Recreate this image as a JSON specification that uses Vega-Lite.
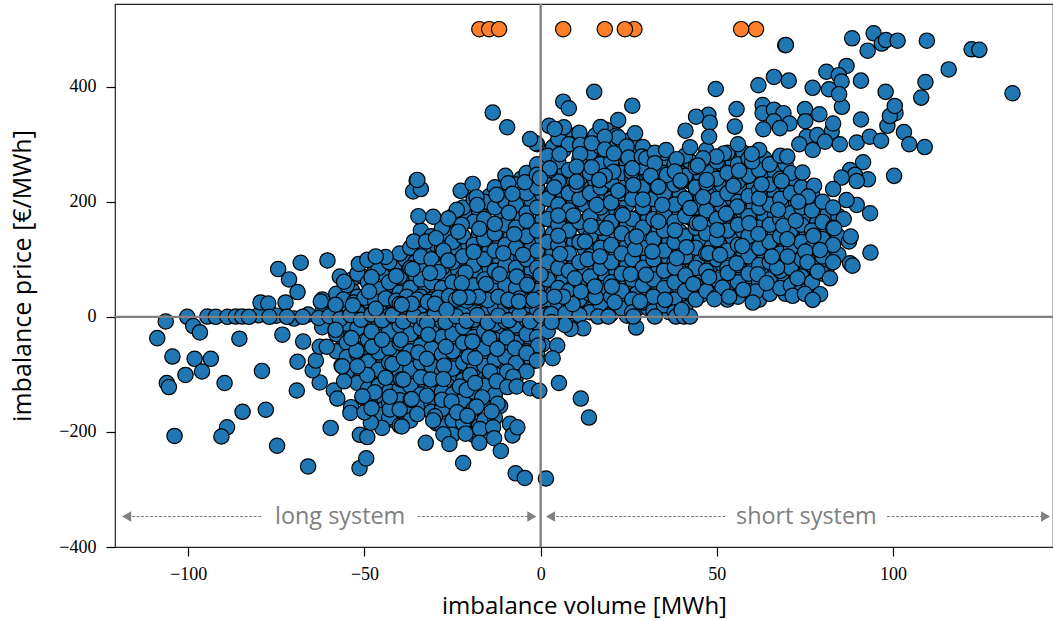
{"$schema":"https://vega.github.io/schema/vega-lite/v6.json","width":938,"height":543,"autosize":"none","padding":{"left":115,"top":4,"right":0,"bottom":74},"background":"white","view":{"stroke":"#222222","strokeWidth":1.2,"fill":"white"},
"datasets":{"orange":[{"v":-17.4,"p":500},{"v":-14.6,"p":500},{"v":-11.8,"p":500},{"v":6.4,"p":500},{"v":18.2,"p":500},{"v":26.6,"p":500},{"v":23.9,"p":500},{"v":61.1,"p":500},{"v":56.9,"p":500}],
"guide":[{"a":-118.5,"b":-79,"t":"l"},{"a":-35,"b":-1.5,"t":"r"},{"a":1.8,"b":52.4,"t":"l"},{"a":98.3,"b":144.3,"t":"r"}],
"heads":[{"v":-117.5,"s":"triangle-left"},{"v":-2.5,"s":"triangle-right"},{"v":2.8,"s":"triangle-left"},{"v":143.3,"s":"triangle-right"}],
"labels":[{"v":-56.9,"t":"long system"},{"v":75.4,"t":"short system"}],
"blue":[{"v":-56.5,"p":35},{"v":-56.5,"p":-5},{"v":-56.5,"p":-35},{"v":-56.5,"p":-58},{"v":-56.5,"p":-85},{"v":-53.5,"p":65},{"v":-53.5,"p":45},{"v":-53.5,"p":12},{"v":-53.5,"p":-32},{"v":-53.5,"p":-52},{"v":-53.5,"p":-80},{"v":-53.5,"p":-105},{"v":-50.5,"p":70},{"v":-50.5,"p":18},{"v":-50.5,"p":-15},{"v":-50.5,"p":-55},{"v":-50.5,"p":-100},{"v":-50.5,"p":-140},{"v":-47.5,"p":75},{"v":-47.5,"p":38},{"v":-47.5,"p":5},{"v":-47.5,"p":-22},{"v":-47.5,"p":-72},{"v":-47.5,"p":-112},{"v":-47.5,"p":-145},{"v":-47.5,"p":-178},{"v":-44.5,"p":75},{"v":-44.5,"p":40},{"v":-44.5,"p":-20},{"v":-44.5,"p":-48},{"v":-44.5,"p":-75},{"v":-44.5,"p":-100},{"v":-44.5,"p":-140},{"v":-44.5,"p":-160},{"v":-41.5,"p":88},{"v":-41.5,"p":52},{"v":-41.5,"p":20},{"v":-41.5,"p":-32},{"v":-41.5,"p":-65},{"v":-41.5,"p":-115},{"v":-41.5,"p":-180},{"v":-38.5,"p":100},{"v":-38.5,"p":62},{"v":-38.5,"p":20},{"v":-38.5,"p":-22},{"v":-38.5,"p":-52},{"v":-38.5,"p":-78},{"v":-38.5,"p":-110},{"v":-38.5,"p":-135},{"v":-38.5,"p":-170},{"v":-35.5,"p":95},{"v":-35.5,"p":72},{"v":-35.5,"p":42},{"v":-35.5,"p":10},{"v":-35.5,"p":-45},{"v":-35.5,"p":-70},{"v":-35.5,"p":-98},{"v":-35.5,"p":-128},{"v":-35.5,"p":-150},{"v":-32.5,"p":118},{"v":-32.5,"p":85},{"v":-32.5,"p":48},{"v":-32.5,"p":15},{"v":-32.5,"p":-35},{"v":-32.5,"p":-68},{"v":-32.5,"p":-95},{"v":-32.5,"p":-115},{"v":-32.5,"p":-145},{"v":-29.5,"p":125},{"v":-29.5,"p":95},{"v":-29.5,"p":68},{"v":-29.5,"p":40},{"v":-29.5,"p":-15},{"v":-29.5,"p":-45},{"v":-29.5,"p":-75},{"v":-29.5,"p":-100},{"v":-29.5,"p":-120},{"v":-29.5,"p":-155},{"v":-29.5,"p":-185},{"v":-26.5,"p":145},{"v":-26.5,"p":105},{"v":-26.5,"p":70},{"v":-26.5,"p":42},{"v":-26.5,"p":-20},{"v":-26.5,"p":-50},{"v":-26.5,"p":-78},{"v":-26.5,"p":-115},{"v":-26.5,"p":-150},{"v":-26.5,"p":-175},{"v":-23.5,"p":160},{"v":-23.5,"p":118},{"v":-23.5,"p":82},{"v":-23.5,"p":50},{"v":-23.5,"p":15},{"v":-23.5,"p":-10},{"v":-23.5,"p":-42},{"v":-23.5,"p":-75},{"v":-23.5,"p":-100},{"v":-23.5,"p":-125},{"v":-23.5,"p":-160},{"v":-23.5,"p":-195},{"v":-20.5,"p":175},{"v":-20.5,"p":125},{"v":-20.5,"p":88},{"v":-20.5,"p":52},{"v":-20.5,"p":-30},{"v":-20.5,"p":-55},{"v":-20.5,"p":-95},{"v":-20.5,"p":-135},{"v":-20.5,"p":-170},{"v":-20.5,"p":-195},{"v":-17.5,"p":185},{"v":-17.5,"p":145},{"v":-17.5,"p":112},{"v":-17.5,"p":72},{"v":-17.5,"p":40},{"v":-17.5,"p":8},{"v":-17.5,"p":-18},{"v":-17.5,"p":-48},{"v":-17.5,"p":-75},{"v":-17.5,"p":-105},{"v":-17.5,"p":-150},{"v":-17.5,"p":-190},{"v":-14.5,"p":210},{"v":-14.5,"p":150},{"v":-14.5,"p":118},{"v":-14.5,"p":85},{"v":-14.5,"p":48},{"v":-14.5,"p":18},{"v":-14.5,"p":-15},{"v":-14.5,"p":-42},{"v":-14.5,"p":-70},{"v":-14.5,"p":-105},{"v":-14.5,"p":-150},{"v":-14.5,"p":-190},{"v":-11.5,"p":205},{"v":-11.5,"p":168},{"v":-11.5,"p":130},{"v":-11.5,"p":98},{"v":-11.5,"p":62},{"v":-11.5,"p":30},{"v":-11.5,"p":-28},{"v":-11.5,"p":-60},{"v":-11.5,"p":-90},{"v":-11.5,"p":-118},{"v":-11.5,"p":-155},{"v":-8.5,"p":215},{"v":-8.5,"p":178},{"v":-8.5,"p":140},{"v":-8.5,"p":105},{"v":-8.5,"p":72},{"v":-8.5,"p":38},{"v":-8.5,"p":5},{"v":-8.5,"p":-28},{"v":-8.5,"p":-60},{"v":-8.5,"p":-90},{"v":-5.5,"p":240},{"v":-5.5,"p":175},{"v":-5.5,"p":138},{"v":-5.5,"p":102},{"v":-5.5,"p":68},{"v":-5.5,"p":-25},{"v":-5.5,"p":-62},{"v":-5.5,"p":-92},{"v":-2.5,"p":235},{"v":-2.5,"p":200},{"v":-2.5,"p":160},{"v":-2.5,"p":122},{"v":-2.5,"p":80},{"v":-2.5,"p":42},{"v":-2.5,"p":10},{"v":-2.5,"p":-20},{"v":-2.5,"p":-45},{"v":-2.5,"p":-78},{"v":0.5,"p":265},{"v":0.5,"p":212},{"v":0.5,"p":170},{"v":0.5,"p":135},{"v":0.5,"p":100},{"v":0.5,"p":55},{"v":0.5,"p":20},{"v":0.5,"p":-15},{"v":0.5,"p":-48},{"v":3.5,"p":295},{"v":3.5,"p":255},{"v":3.5,"p":220},{"v":3.5,"p":180},{"v":3.5,"p":145},{"v":3.5,"p":110},{"v":3.5,"p":75},{"v":3.5,"p":40},{"v":3.5,"p":12},{"v":6.5,"p":290},{"v":6.5,"p":250},{"v":6.5,"p":210},{"v":6.5,"p":175},{"v":6.5,"p":140},{"v":6.5,"p":98},{"v":6.5,"p":65},{"v":6.5,"p":25},{"v":6.5,"p":-2},{"v":9.5,"p":315},{"v":9.5,"p":235},{"v":9.5,"p":200},{"v":9.5,"p":165},{"v":9.5,"p":130},{"v":9.5,"p":92},{"v":9.5,"p":55},{"v":9.5,"p":28},{"v":9.5,"p":2},{"v":12.5,"p":305},{"v":12.5,"p":265},{"v":12.5,"p":230},{"v":12.5,"p":195},{"v":12.5,"p":155},{"v":12.5,"p":118},{"v":12.5,"p":82},{"v":12.5,"p":50},{"v":12.5,"p":18},{"v":15.5,"p":315},{"v":15.5,"p":275},{"v":15.5,"p":235},{"v":15.5,"p":200},{"v":15.5,"p":165},{"v":15.5,"p":125},{"v":15.5,"p":90},{"v":15.5,"p":55},{"v":15.5,"p":20},{"v":18.5,"p":325},{"v":18.5,"p":280},{"v":18.5,"p":250},{"v":18.5,"p":215},{"v":18.5,"p":178},{"v":18.5,"p":140},{"v":18.5,"p":105},{"v":18.5,"p":70},{"v":18.5,"p":35},{"v":18.5,"p":12},{"v":21.5,"p":315},{"v":21.5,"p":285},{"v":21.5,"p":252},{"v":21.5,"p":220},{"v":21.5,"p":185},{"v":21.5,"p":145},{"v":21.5,"p":110},{"v":21.5,"p":78},{"v":21.5,"p":48},{"v":21.5,"p":18},{"v":24.5,"p":305},{"v":24.5,"p":265},{"v":24.5,"p":230},{"v":24.5,"p":195},{"v":24.5,"p":160},{"v":24.5,"p":125},{"v":24.5,"p":90},{"v":24.5,"p":60},{"v":24.5,"p":28},{"v":24.5,"p":2},{"v":27.5,"p":275},{"v":27.5,"p":245},{"v":27.5,"p":205},{"v":27.5,"p":172},{"v":27.5,"p":138},{"v":27.5,"p":102},{"v":27.5,"p":70},{"v":27.5,"p":42},{"v":27.5,"p":15},{"v":30.5,"p":285},{"v":30.5,"p":250},{"v":30.5,"p":215},{"v":30.5,"p":172},{"v":30.5,"p":138},{"v":30.5,"p":102},{"v":30.5,"p":70},{"v":30.5,"p":42},{"v":30.5,"p":15},{"v":33.5,"p":260},{"v":33.5,"p":222},{"v":33.5,"p":188},{"v":33.5,"p":152},{"v":33.5,"p":118},{"v":33.5,"p":82},{"v":33.5,"p":50},{"v":33.5,"p":22},{"v":36.5,"p":270},{"v":36.5,"p":232},{"v":36.5,"p":198},{"v":36.5,"p":165},{"v":36.5,"p":132},{"v":36.5,"p":98},{"v":36.5,"p":65},{"v":36.5,"p":35},{"v":36.5,"p":8},{"v":39.5,"p":250},{"v":39.5,"p":212},{"v":39.5,"p":180},{"v":39.5,"p":148},{"v":39.5,"p":115},{"v":39.5,"p":80},{"v":39.5,"p":50},{"v":39.5,"p":22},{"v":42.5,"p":270},{"v":42.5,"p":235},{"v":42.5,"p":205},{"v":42.5,"p":172},{"v":42.5,"p":138},{"v":42.5,"p":102},{"v":42.5,"p":70},{"v":42.5,"p":42},{"v":45.5,"p":245},{"v":45.5,"p":205},{"v":45.5,"p":170},{"v":45.5,"p":135},{"v":45.5,"p":98},{"v":45.5,"p":68},{"v":45.5,"p":38},{"v":48.5,"p":260},{"v":48.5,"p":225},{"v":48.5,"p":190},{"v":48.5,"p":155},{"v":48.5,"p":122},{"v":48.5,"p":90},{"v":48.5,"p":55},{"v":51.5,"p":265},{"v":51.5,"p":228},{"v":51.5,"p":192},{"v":51.5,"p":158},{"v":51.5,"p":125},{"v":51.5,"p":92},{"v":51.5,"p":62},{"v":51.5,"p":40},{"v":54.5,"p":270},{"v":54.5,"p":240},{"v":54.5,"p":205},{"v":54.5,"p":170},{"v":54.5,"p":138},{"v":54.5,"p":105},{"v":54.5,"p":72},{"v":54.5,"p":45},{"v":57.5,"p":285},{"v":57.5,"p":250},{"v":57.5,"p":218},{"v":57.5,"p":182},{"v":57.5,"p":148},{"v":57.5,"p":112},{"v":57.5,"p":78},{"v":60.5,"p":260},{"v":60.5,"p":225},{"v":60.5,"p":192},{"v":60.5,"p":158},{"v":60.5,"p":125},{"v":60.5,"p":92},{"v":60.5,"p":60},{"v":60.5,"p":35},{"v":63.5,"p":275},{"v":63.5,"p":240},{"v":63.5,"p":205},{"v":63.5,"p":175},{"v":63.5,"p":140},{"v":63.5,"p":108},{"v":63.5,"p":78},{"v":63.5,"p":50},{"v":66.5,"p":250},{"v":66.5,"p":215},{"v":66.5,"p":178},{"v":66.5,"p":145},{"v":66.5,"p":118},{"v":66.5,"p":85},{"v":66.5,"p":55},{"v":69.5,"p":265},{"v":69.5,"p":228},{"v":69.5,"p":192},{"v":69.5,"p":158},{"v":69.5,"p":128},{"v":69.5,"p":95},{"v":69.5,"p":65},{"v":69.5,"p":40},{"v":72.5,"p":235},{"v":72.5,"p":198},{"v":72.5,"p":165},{"v":72.5,"p":135},{"v":72.5,"p":105},{"v":72.5,"p":72},{"v":72.5,"p":48},{"v":75.5,"p":200},{"v":75.5,"p":170},{"v":75.5,"p":142},{"v":75.5,"p":112},{"v":75.5,"p":82},{"v":75.5,"p":55},{"v":78.5,"p":195},{"v":78.5,"p":165},{"v":78.5,"p":135},{"v":78.5,"p":105},{"v":78.5,"p":75},{"v":81.5,"p":180},{"v":81.5,"p":148},{"v":81.5,"p":118},{"v":81.5,"p":88},{"v":84.5,"p":175},{"v":84.5,"p":140},{"v":84.5,"p":108},
{"v":-62,"p":30},{"v":-62,"p":8},{"v":-62,"p":-18},{"v":-58,"p":40},{"v":-58,"p":15},{"v":-58,"p":2},{"v":-58,"p":-30},{"v":-58,"p":-60},{"v":-55,"p":55},{"v":-55,"p":22},{"v":-55,"p":-12},{"v":-55,"p":-45},{"v":-55,"p":-70},{"v":-55,"p":-95},{"v":-52,"p":75},{"v":-52,"p":35},{"v":-52,"p":8},{"v":-52,"p":-20},{"v":-52,"p":-65},{"v":-52,"p":-115},{"v":-49,"p":60},{"v":-49,"p":28},{"v":-49,"p":-5},{"v":-49,"p":-40},{"v":-49,"p":-78},{"v":-49,"p":-125},{"v":-49,"p":-150},{"v":-46,"p":85},{"v":-46,"p":48},{"v":-46,"p":15},{"v":-46,"p":-10},{"v":-46,"p":-35},{"v":-46,"p":-62},{"v":-46,"p":-92},{"v":-46,"p":-120},{"v":-46,"p":-170},{"v":-43,"p":95},{"v":-43,"p":60},{"v":-43,"p":30},{"v":-43,"p":2},{"v":-43,"p":-25},{"v":-43,"p":-55},{"v":-43,"p":-80},{"v":-43,"p":-130},{"v":-43,"p":-150},{"v":-43,"p":-175},{"v":-40,"p":110},{"v":-40,"p":70},{"v":-40,"p":42},{"v":-40,"p":12},{"v":-40,"p":-15},{"v":-40,"p":-45},{"v":-40,"p":-95},{"v":-40,"p":-125},{"v":-40,"p":-145},{"v":-37,"p":120},{"v":-37,"p":85},{"v":-37,"p":50},{"v":-37,"p":25},{"v":-37,"p":-8},{"v":-37,"p":-30},{"v":-37,"p":-60},{"v":-37,"p":-90},{"v":-37,"p":-120},{"v":-37,"p":-160},{"v":-37,"p":-180},{"v":-34,"p":150},{"v":-34,"p":105},{"v":-34,"p":65},{"v":-34,"p":35},{"v":-34,"p":5},{"v":-34,"p":-20},{"v":-34,"p":-50},{"v":-34,"p":-80},{"v":-34,"p":-105},{"v":-34,"p":-135},{"v":-34,"p":-155},{"v":-31,"p":140},{"v":-31,"p":100},{"v":-31,"p":60},{"v":-31,"p":30},{"v":-31,"p":0},{"v":-31,"p":-25},{"v":-31,"p":-55},{"v":-31,"p":-85},{"v":-31,"p":-125},{"v":-31,"p":-150},{"v":-31,"p":-165},{"v":-28,"p":155},{"v":-28,"p":120},{"v":-28,"p":85},{"v":-28,"p":50},{"v":-28,"p":18},{"v":-28,"p":-8},{"v":-28,"p":-35},{"v":-28,"p":-65},{"v":-28,"p":-95},{"v":-28,"p":-130},{"v":-28,"p":-160},{"v":-28,"p":-190},{"v":-25,"p":175},{"v":-25,"p":130},{"v":-25,"p":95},{"v":-25,"p":60},{"v":-25,"p":28},{"v":-25,"p":3},{"v":-25,"p":-30},{"v":-25,"p":-60},{"v":-25,"p":-90},{"v":-25,"p":-135},{"v":-25,"p":-180},{"v":-25,"p":-205},{"v":-22,"p":190},{"v":-22,"p":140},{"v":-22,"p":105},{"v":-22,"p":70},{"v":-22,"p":40},{"v":-22,"p":10},{"v":-22,"p":-18},{"v":-22,"p":-45},{"v":-22,"p":-80},{"v":-22,"p":-110},{"v":-22,"p":-145},{"v":-22,"p":-185},{"v":-19,"p":205},{"v":-19,"p":165},{"v":-19,"p":125},{"v":-19,"p":90},{"v":-19,"p":55},{"v":-19,"p":22},{"v":-19,"p":-5},{"v":-19,"p":-35},{"v":-19,"p":-60},{"v":-19,"p":-90},{"v":-19,"p":-130},{"v":-19,"p":-160},{"v":-19,"p":-205},{"v":-16,"p":200},{"v":-16,"p":170},{"v":-16,"p":135},{"v":-16,"p":100},{"v":-16,"p":65},{"v":-16,"p":30},{"v":-16,"p":5},{"v":-16,"p":-25},{"v":-16,"p":-55},{"v":-16,"p":-85},{"v":-16,"p":-120},{"v":-16,"p":-180},{"v":-16,"p":-200},{"v":-13,"p":225},{"v":-13,"p":190},{"v":-13,"p":145},{"v":-13,"p":115},{"v":-13,"p":80},{"v":-13,"p":45},{"v":-13,"p":15},{"v":-13,"p":-12},{"v":-13,"p":-40},{"v":-13,"p":-75},{"v":-13,"p":-100},{"v":-13,"p":-135},{"v":-13,"p":-175},{"v":-10,"p":245},{"v":-10,"p":200},{"v":-10,"p":160},{"v":-10,"p":125},{"v":-10,"p":90},{"v":-10,"p":55},{"v":-10,"p":20},{"v":-10,"p":-8},{"v":-10,"p":-45},{"v":-10,"p":-70},{"v":-10,"p":-110},{"v":-7,"p":230},{"v":-7,"p":195},{"v":-7,"p":155},{"v":-7,"p":120},{"v":-7,"p":85},{"v":-7,"p":50},{"v":-7,"p":15},{"v":-7,"p":-15},{"v":-7,"p":-45},{"v":-7,"p":-80},{"v":-7,"p":-105},{"v":-4,"p":250},{"v":-4,"p":215},{"v":-4,"p":180},{"v":-4,"p":140},{"v":-4,"p":100},{"v":-4,"p":60},{"v":-4,"p":30},{"v":-4,"p":-5},{"v":-4,"p":-30},{"v":-4,"p":-60},{"v":-4,"p":-95},{"v":-1,"p":300},{"v":-1,"p":265},{"v":-1,"p":225},{"v":-1,"p":190},{"v":-1,"p":150},{"v":-1,"p":115},{"v":-1,"p":85},{"v":-1,"p":45},{"v":-1,"p":12},{"v":-1,"p":-10},{"v":-1,"p":-35},{"v":-1,"p":-65},{"v":2,"p":280},{"v":2,"p":245},{"v":2,"p":205},{"v":2,"p":170},{"v":2,"p":130},{"v":2,"p":95},{"v":2,"p":65},{"v":2,"p":25},{"v":2,"p":5},{"v":2,"p":-25},{"v":5,"p":310},{"v":5,"p":270},{"v":5,"p":235},{"v":5,"p":195},{"v":5,"p":160},{"v":5,"p":125},{"v":5,"p":85},{"v":5,"p":50},{"v":5,"p":20},{"v":5,"p":-8},{"v":8,"p":300},{"v":8,"p":255},{"v":8,"p":215},{"v":8,"p":185},{"v":8,"p":150},{"v":8,"p":110},{"v":8,"p":80},{"v":8,"p":45},{"v":8,"p":15},{"v":11,"p":320},{"v":11,"p":275},{"v":11,"p":240},{"v":11,"p":205},{"v":11,"p":165},{"v":11,"p":130},{"v":11,"p":95},{"v":11,"p":60},{"v":11,"p":30},{"v":11,"p":5},{"v":14,"p":285},{"v":14,"p":250},{"v":14,"p":215},{"v":14,"p":175},{"v":14,"p":140},{"v":14,"p":105},{"v":14,"p":70},{"v":14,"p":40},{"v":14,"p":8},{"v":17,"p":330},{"v":17,"p":295},{"v":17,"p":265},{"v":17,"p":225},{"v":17,"p":190},{"v":17,"p":155},{"v":17,"p":120},{"v":17,"p":85},{"v":17,"p":50},{"v":17,"p":22},{"v":20,"p":300},{"v":20,"p":270},{"v":20,"p":235},{"v":20,"p":205},{"v":20,"p":165},{"v":20,"p":125},{"v":20,"p":95},{"v":20,"p":60},{"v":20,"p":35},{"v":20,"p":5},{"v":23,"p":290},{"v":23,"p":250},{"v":23,"p":215},{"v":23,"p":180},{"v":23,"p":145},{"v":23,"p":110},{"v":23,"p":75},{"v":23,"p":45},{"v":23,"p":15},{"v":26,"p":310},{"v":26,"p":280},{"v":26,"p":240},{"v":26,"p":205},{"v":26,"p":170},{"v":26,"p":135},{"v":26,"p":100},{"v":26,"p":65},{"v":26,"p":30},{"v":26,"p":8},{"v":29,"p":295},{"v":29,"p":260},{"v":29,"p":225},{"v":29,"p":190},{"v":29,"p":155},{"v":29,"p":120},{"v":29,"p":85},{"v":29,"p":55},{"v":29,"p":25},{"v":32,"p":275},{"v":32,"p":240},{"v":32,"p":205},{"v":32,"p":170},{"v":32,"p":135},{"v":32,"p":100},{"v":32,"p":65},{"v":32,"p":35},{"v":32,"p":10},{"v":35,"p":285},{"v":35,"p":250},{"v":35,"p":215},{"v":35,"p":180},{"v":35,"p":150},{"v":35,"p":115},{"v":35,"p":80},{"v":35,"p":50},{"v":35,"p":20},{"v":38,"p":265},{"v":38,"p":230},{"v":38,"p":195},{"v":38,"p":165},{"v":38,"p":130},{"v":38,"p":95},{"v":38,"p":60},{"v":38,"p":30},{"v":38,"p":8},{"v":41,"p":280},{"v":41,"p":245},{"v":41,"p":205},{"v":41,"p":175},{"v":41,"p":140},{"v":41,"p":105},{"v":41,"p":75},{"v":41,"p":45},{"v":41,"p":15},{"v":44,"p":260},{"v":44,"p":225},{"v":44,"p":190},{"v":44,"p":155},{"v":44,"p":120},{"v":44,"p":85},{"v":44,"p":55},{"v":44,"p":30},{"v":47,"p":290},{"v":47,"p":255},{"v":47,"p":215},{"v":47,"p":185},{"v":47,"p":145},{"v":47,"p":110},{"v":47,"p":80},{"v":47,"p":45},{"v":50,"p":270},{"v":50,"p":240},{"v":50,"p":205},{"v":50,"p":170},{"v":50,"p":135},{"v":50,"p":100},{"v":50,"p":65},{"v":50,"p":35},{"v":53,"p":285},{"v":53,"p":250},{"v":53,"p":215},{"v":53,"p":180},{"v":53,"p":150},{"v":53,"p":115},{"v":53,"p":85},{"v":53,"p":55},{"v":53,"p":30},{"v":56,"p":300},{"v":56,"p":265},{"v":56,"p":235},{"v":56,"p":200},{"v":56,"p":160},{"v":56,"p":125},{"v":56,"p":90},{"v":56,"p":60},{"v":56,"p":35},{"v":59,"p":275},{"v":59,"p":245},{"v":59,"p":210},{"v":59,"p":175},{"v":59,"p":140},{"v":59,"p":105},{"v":59,"p":75},{"v":59,"p":45},{"v":62,"p":290},{"v":62,"p":255},{"v":62,"p":220},{"v":62,"p":190},{"v":62,"p":155},{"v":62,"p":120},{"v":62,"p":90},{"v":62,"p":60},{"v":62,"p":30},{"v":65,"p":265},{"v":65,"p":230},{"v":65,"p":195},{"v":65,"p":160},{"v":65,"p":130},{"v":65,"p":95},{"v":65,"p":65},{"v":65,"p":40},{"v":68,"p":280},{"v":68,"p":240},{"v":68,"p":205},{"v":68,"p":170},{"v":68,"p":140},{"v":68,"p":110},{"v":68,"p":80},{"v":68,"p":50},{"v":71,"p":250},{"v":71,"p":215},{"v":71,"p":180},{"v":71,"p":150},{"v":71,"p":120},{"v":71,"p":85},{"v":71,"p":55},{"v":74,"p":225},{"v":74,"p":190},{"v":74,"p":160},{"v":74,"p":130},{"v":74,"p":100},{"v":74,"p":70},{"v":74,"p":45},{"v":77,"p":215},{"v":77,"p":185},{"v":77,"p":150},{"v":77,"p":120},{"v":77,"p":90},{"v":77,"p":60},{"v":80,"p":200},{"v":80,"p":165},{"v":80,"p":135},{"v":80,"p":105},{"v":80,"p":75},{"v":83,"p":190},{"v":83,"p":155},{"v":83,"p":125},{"v":83,"p":95},
{"v":-80,"p":3},{"v":-75,"p":2},{"v":-70,"p":-3},{"v":-66,"p":4},{"v":-63,"p":-2},{"v":-60,"p":1},{"v":-57,"p":-4},{"v":-54,"p":3},{"v":-51,"p":-5},{"v":-48,"p":4},{"v":-45,"p":-6},{"v":-42,"p":3},{"v":-39,"p":-8},{"v":-36,"p":2},{"v":-33,"p":-6},{"v":-30,"p":5},{"v":-27,"p":-9},{"v":-24,"p":1},{"v":-21,"p":-7},{"v":-18,"p":3},{"v":-15,"p":-10},{"v":-12,"p":2},{"v":-9,"p":-6},{"v":-6,"p":4},{"v":-3,"p":-8},{"v":0,"p":2},{"v":3,"p":5},{"v":7,"p":6},{"v":11,"p":3},{"v":-56,"p":30},{"v":-53,"p":25},{"v":-50,"p":33},{"v":-47,"p":27},{"v":-44,"p":32},{"v":-41,"p":28},{"v":-38,"p":35},{"v":-35,"p":30},{"v":-32,"p":26},{"v":-29,"p":33},{"v":-26,"p":36},{"v":-24,"p":30},{"v":-21,"p":28},{"v":-18,"p":33},{"v":-15,"p":29},{"v":-12,"p":35},{"v":-9,"p":27},{"v":-6,"p":32},{"v":-3,"p":28},{"v":0,"p":33},
{"v":-106.4,"p":-8},{"v":-108.8,"p":-37},{"v":-100.3,"p":0},{"v":-98.6,"p":-16},{"v":-96.7,"p":-27},{"v":-94.6,"p":0.5},{"v":-92.2,"p":0},{"v":-88.9,"p":0},{"v":-86.5,"p":0.5},{"v":-84.7,"p":0.5},{"v":-82.8,"p":0},{"v":-85.5,"p":-38},{"v":-104.5,"p":-69},{"v":-98.2,"p":-73},{"v":-93.6,"p":-73},{"v":-100.8,"p":-101},{"v":-96.1,"p":-95},{"v":-106.1,"p":-115},{"v":-105.5,"p":-122},{"v":-89.7,"p":-115},{"v":-79.1,"p":-94},{"v":-103.9,"p":-207},{"v":-89,"p":-192},{"v":-90.6,"p":-208},{"v":-84.6,"p":-165},{"v":-78,"p":-161.5},{"v":-74.8,"p":-224},{"v":-66,"p":-260},{"v":-69.2,"p":-128},{"v":-69,"p":-78},{"v":-67.4,"p":-43},{"v":-59.6,"p":-193},{"v":-51.4,"p":-263},{"v":-49.5,"p":-246},{"v":-51.3,"p":-205},{"v":-49.2,"p":-209},{"v":-45,"p":-193},{"v":-40,"p":-189},{"v":-48.2,"p":-184},{"v":-53.8,"p":-157},{"v":-54,"p":-167},{"v":-50,"p":-166},{"v":-48,"p":-159},{"v":-42.8,"p":-161},{"v":-40,"p":-161},{"v":-58.7,"p":-128},{"v":-57.7,"p":-142},{"v":-62.7,"p":-114},{"v":-64.7,"p":-93},{"v":-63.8,"p":-76},{"v":-62.7,"p":-52},{"v":-60.7,"p":-52},{"v":-73.3,"p":-31},{"v":-74.5,"p":83},{"v":-71.4,"p":65},{"v":-68.1,"p":94},{"v":-60.5,"p":98},{"v":-69,"p":43},{"v":-51.6,"p":92},{"v":-49.2,"p":99},{"v":-44,"p":104},{"v":-46.8,"p":105},{"v":-57,"p":70},{"v":-55.8,"p":61},{"v":-72.4,"p":25},{"v":-79.5,"p":25},{"v":-77.3,"p":23},{"v":-77,"p":0},{"v":-62.4,"p":26.6},{"v":-58.2,"p":21},{"v":-53.3,"p":20},{"v":-46.8,"p":14},{"v":-40,"p":22.6},{"v":-41,"p":71},{"v":-48,"p":69},{"v":-48.7,"p":44},{"v":-67.5,"p":0},{"v":-72,"p":0},{"v":-55.8,"p":-112},{"v":-49.2,"p":-101},{"v":-56.3,"p":-86},{"v":-52.3,"p":-59},{"v":-53.7,"p":-37},{"v":-47.8,"p":-52},{"v":-48,"p":-25.5},{"v":-52,"p":-86},{"v":-42.1,"p":-82},{"v":-44,"p":-106},{"v":-39.6,"p":-109},{"v":-47.1,"p":-131},{"v":-42.8,"p":-139},{"v":-50.6,"p":-138},{"v":-36.9,"p":-144},{"v":-38.8,"p":-72},{"v":-39.7,"p":-40},{"v":-58.2,"p":-22.6},{"v":-45,"p":-40},
{"v":-35.2,"p":237},{"v":-36.2,"p":218},{"v":-34,"p":222},{"v":-22.7,"p":219},{"v":-19.3,"p":231},{"v":-18.2,"p":208},{"v":-18,"p":194.5},{"v":-12.5,"p":212},{"v":-9.2,"p":232},{"v":-8,"p":214},{"v":-4.5,"p":234},{"v":-34.7,"p":175},{"v":-30.5,"p":174},{"v":-23.8,"p":186},{"v":-26.2,"p":171},{"v":-22.4,"p":160},{"v":-23.4,"p":148},{"v":-17.4,"p":153},{"v":-13,"p":161.5},{"v":-9,"p":181},{"v":-4,"p":167},{"v":-7.5,"p":143.6},{"v":-36,"p":131},{"v":-32.5,"p":131},{"v":-29.7,"p":136.7},{"v":-27.6,"p":115},{"v":-19,"p":113},{"v":-5,"p":108},{"v":-10.6,"p":110.6},{"v":-26.2,"p":98},{"v":-36.4,"p":83},{"v":-29,"p":77.6},{"v":-31.4,"p":76},{"v":-21.3,"p":77},{"v":-11.7,"p":74},{"v":-6.8,"p":70},{"v":0,"p":73},{"v":-3.8,"p":55.6},{"v":-22.4,"p":58.5},{"v":-15.5,"p":57},{"v":-17.7,"p":35},{"v":-20.5,"p":34},{"v":-23,"p":33.5},{"v":-9.2,"p":29.5},{"v":-6.2,"p":26.6},{"v":-2,"p":29.5},{"v":-30,"p":22.6},{"v":-36.6,"p":22.6},{"v":-39.4,"p":20.8},{"v":-26.7,"p":12},{"v":-32.2,"p":-11},{"v":-31.9,"p":-31},{"v":-26.9,"p":-52},{"v":-34.7,"p":-62},{"v":-32.3,"p":-73},{"v":-27.4,"p":-85},{"v":-20.4,"p":-69},{"v":-18.6,"p":-72},{"v":-20,"p":-101},{"v":-14.6,"p":-37},{"v":-19.4,"p":-43},{"v":-9.6,"p":-36},{"v":-12.3,"p":-55.6},{"v":-7.3,"p":-54.6},{"v":-0.7,"p":-50},{"v":4.7,"p":-50},{"v":-4,"p":-63},{"v":-1.1,"p":-76},{"v":3.4,"p":-72},{"v":-14.4,"p":-95},{"v":-9.5,"p":-95},{"v":-7.8,"p":-104},{"v":-12.5,"p":-112},{"v":-9.5,"p":-122},{"v":-6.8,"p":-121},{"v":-3,"p":-124},{"v":-0.4,"p":-128.5},{"v":5.2,"p":-115},{"v":11.4,"p":-142},{"v":13.7,"p":-175},{"v":-31.2,"p":-109},{"v":-27.6,"p":-108},{"v":-39,"p":-109},{"v":-22.9,"p":-121},{"v":-21,"p":-127},{"v":-18.6,"p":-115},{"v":-32.3,"p":-137},{"v":-36.6,"p":-143},{"v":-28,"p":-144},{"v":-25.3,"p":-147},{"v":-16.6,"p":-140},{"v":-12.2,"p":-151},{"v":-18.2,"p":-156},{"v":-13.9,"p":-164.5},{"v":-23.7,"p":-166},{"v":-20.8,"p":-172},{"v":-30,"p":-173},{"v":-35,"p":-169},{"v":-30.5,"p":-180},{"v":-39.4,"p":-190.5},{"v":-27.6,"p":-204},{"v":-25.9,"p":-221},{"v":-32.6,"p":-219},{"v":-21.3,"p":-203},{"v":-17.2,"p":-195},{"v":-17.4,"p":-219},{"v":-13.5,"p":-192},{"v":-13.2,"p":-211},{"v":-11.3,"p":-233},{"v":-8.7,"p":-186},{"v":-8,"p":-206},{"v":-6.6,"p":-192},{"v":-22,"p":-254},{"v":-7.1,"p":-272},{"v":-4.5,"p":-280},{"v":1.5,"p":-281},{"v":27.1,"p":-18.6},{"v":32.4,"p":0.5},{"v":38.4,"p":0.5},{"v":40.7,"p":0.5},{"v":42.4,"p":0.5},{"v":16.3,"p":0.5},{"v":19.2,"p":0.5},{"v":26.3,"p":0.5},{"v":12.1,"p":-20},{"v":8.5,"p":-21},{"v":6.9,"p":-14},{"v":3.1,"p":-9},{"v":11.4,"p":44},{"v":9.1,"p":22},{"v":15.6,"p":34},{"v":21,"p":25.5},{"v":20.2,"p":52.6},{"v":15.4,"p":52.6},{"v":9.7,"p":67},{"v":6.4,"p":35},{"v":3.9,"p":35},{"v":25.5,"p":74},{"v":29.9,"p":73},{"v":38.1,"p":85.6},{"v":41.1,"p":72},{"v":43.3,"p":57},{"v":32,"p":35},{"v":35.3,"p":29.5},{"v":28.2,"p":26.6},{"v":40,"p":12},{"v":5.5,"p":109},{"v":13.3,"p":100},{"v":16.8,"p":105},{"v":31.7,"p":113.5},{"v":26.8,"p":117.6},{"v":41.4,"p":121},{"v":38.6,"p":102},{"v":27.2,"p":139.6},{"v":18.7,"p":154},{"v":14.2,"p":158},{"v":5,"p":141},{"v":5,"p":176},{"v":9.3,"p":176},{"v":23.3,"p":177},{"v":15.9,"p":194.5},{"v":20,"p":198.6},{"v":29,"p":204},{"v":34.5,"p":194.5},{"v":33.4,"p":165.5},{"v":38.1,"p":150},{"v":42.4,"p":189},{"v":44.3,"p":163},{"v":39.8,"p":235},{"v":33.2,"p":226},{"v":22,"p":219},{"v":16.6,"p":238},{"v":3.9,"p":225},{"v":25.8,"p":252},{"v":2.6,"p":255},{"v":10.2,"p":229},{"v":12.6,"p":131},
{"v":69.4,"p":472},{"v":69.6,"p":472.5},{"v":88.4,"p":484},{"v":94.5,"p":492.7},{"v":92.8,"p":462.6},{"v":96.8,"p":475},{"v":98,"p":481},{"v":101.3,"p":480},{"v":109.6,"p":480},{"v":122.3,"p":465},{"v":124.5,"p":464},{"v":133.9,"p":388.6},{"v":115.8,"p":430},{"v":109.2,"p":408},{"v":108,"p":381},{"v":97.9,"p":391},{"v":90.9,"p":410.5},{"v":86.8,"p":436},{"v":81.1,"p":426},{"v":84.6,"p":420},{"v":85.4,"p":409},{"v":77.2,"p":398},{"v":81.8,"p":395.5},{"v":85.5,"p":365},{"v":84.7,"p":387},{"v":90.9,"p":343},{"v":66.2,"p":417},{"v":70.4,"p":410.5},{"v":61.8,"p":402.5},{"v":49.7,"p":396},{"v":55.6,"p":361},{"v":63,"p":368},{"v":63,"p":354},{"v":66.2,"p":360},{"v":68.9,"p":354},{"v":75,"p":361},{"v":79.1,"p":352},{"v":75.1,"p":340},{"v":70.6,"p":336},{"v":66.2,"p":340},{"v":63.2,"p":326},{"v":67.9,"p":328},{"v":55.1,"p":330.6},{"v":47.6,"p":351},{"v":48,"p":337.5},{"v":47.8,"p":313},{"v":82.6,"p":322},{"v":83,"p":336},{"v":75.5,"p":313},{"v":78.5,"p":316},{"v":73.4,"p":300},{"v":77.2,"p":290},{"v":80.7,"p":304.5},{"v":84.9,"p":300},{"v":89.7,"p":303},{"v":93.4,"p":313},{"v":96.6,"p":306},{"v":98.4,"p":332},{"v":100.7,"p":354},{"v":99.1,"p":349},{"v":100.5,"p":366.5},{"v":103.1,"p":321},{"v":104.6,"p":300},{"v":109,"p":295},{"v":100.3,"p":245},{"v":91.5,"p":268.7},{"v":92.9,"p":239},{"v":87.8,"p":255},{"v":89.2,"p":246.7},{"v":89.7,"p":236},{"v":85.4,"p":242},{"v":83,"p":222},{"v":93.5,"p":180},{"v":89.7,"p":194.5},{"v":86.8,"p":203},{"v":86,"p":170},{"v":83.3,"p":154},{"v":87.5,"p":131},{"v":88,"p":139.5},{"v":93.6,"p":111.7},{"v":87.8,"p":93},{"v":88.5,"p":89},{"v":70,"p":278.5},{"v":74.3,"p":250.7},{"v":60,"p":270},{"v":59.9,"p":283},{"v":52,"p":284},{"v":49.9,"p":278.5},{"v":46,"p":272.7},{"v":56.3,"p":254},{"v":68.4,"p":236},{"v":77.6,"p":228},{"v":75.9,"p":209},{"v":73.1,"p":200},{"v":67.4,"p":186},{"v":62,"p":206},{"v":62.7,"p":230.5},{"v":54.7,"p":227.6},{"v":47.1,"p":232},{"v":46.1,"p":208},{"v":55.8,"p":191.6},{"v":52.6,"p":179},{"v":45.2,"p":162.7},{"v":59.2,"p":162.7},{"v":68.8,"p":158},{"v":72.4,"p":167},{"v":77.4,"p":140.7},{"v":70,"p":135},{"v":61.8,"p":144},{"v":50.1,"p":151},{"v":57.2,"p":123},{"v":47.6,"p":110.6},{"v":75.1,"p":113.4},{"v":70.1,"p":104.7},{"v":79.3,"p":116},{"v":75.7,"p":95},{"v":67.1,"p":85.6},{"v":78.6,"p":78.6},{"v":82.1,"p":67},{"v":72.9,"p":67},{"v":53.1,"p":76},{"v":61.6,"p":74},{"v":47.8,"p":69},{"v":51.6,"p":51},{"v":61.1,"p":44},{"v":49.3,"p":30.7},{"v":60.2,"p":24.8},{"v":71.5,"p":36.5},{"v":75,"p":40},{"v":79.3,"p":39.4},{"v":77.2,"p":29.5},{"v":53.5,"p":35},{"v":57.5,"p":47},{"v":64.1,"p":58.5},{"v":55.6,"p":93},{"v":50.9,"p":107.7},{"v":65.6,"p":104.7},
{"v":-13.6,"p":355},{"v":-9.5,"p":329.5},{"v":-1.4,"p":301.7},{"v":-3,"p":309},{"v":15.2,"p":391},{"v":6.4,"p":374},{"v":8,"p":362.5},{"v":26,"p":367},{"v":22,"p":342},{"v":26.8,"p":319},{"v":2.4,"p":332},{"v":6.6,"p":329.5},{"v":4,"p":326.6},{"v":5.4,"p":282.6},{"v":2.6,"p":258},{"v":11.2,"p":298.8},{"v":11.2,"p":283},{"v":14.5,"p":301.7},{"v":22,"p":312},{"v":18.2,"p":313},{"v":10.2,"p":261},{"v":14.5,"p":260},{"v":18.2,"p":291},{"v":24.4,"p":296},{"v":20.8,"p":284},{"v":24.9,"p":276.7},{"v":26,"p":258},{"v":20.6,"p":252},{"v":18.2,"p":245},{"v":16.6,"p":238},{"v":10.2,"p":235},{"v":28.7,"p":278.5},{"v":30,"p":275.6},{"v":32.4,"p":285},{"v":32.4,"p":267},{"v":35.6,"p":290},{"v":38.6,"p":274},{"v":31.2,"p":245},{"v":35.8,"p":246.7},{"v":38.1,"p":252.4},{"v":39.7,"p":236.8},{"v":46.1,"p":275.6},{"v":44.6,"p":262.8},{"v":42.4,"p":294.8},{"v":41.1,"p":323.6},{"v":44.1,"p":347.9},{"v":47.1,"p":238},{"v":-1.1,"p":246.7},{"v":-0.2,"p":241},{"v":-35,"p":238},{"v":33.4,"p":226},{"v":26.3,"p":229}]},
"encoding":{},
"layer":[
{"data":{"name":"blue"},"mark":{"type":"point","filled":true,"fill":"#1f77b4","stroke":"#000000","strokeWidth":1.2,"size":235,"opacity":1,"strokeOpacity":1,"fillOpacity":1},
"encoding":{"x":{"field":"v","type":"quantitative","scale":{"domain":[-120.8,145.4],"nice":false,"zero":false},"axis":{"values":[-100,-50,0,50,100],"title":"imbalance volume [MWh]","grid":false,"domain":false,"tickColor":"#000000","tickSize":9,"tickWidth":1.2,"labelFont":"Liberation Serif","labelFontSize":18,"labelColor":"#000000","labelPadding":9,"titleFont":"Open Sans","titleFontSize":24,"titleFontWeight":"normal","titleColor":"#000000","titlePadding":11}},
"y":{"field":"p","type":"quantitative","scale":{"domain":[-400,543.7],"nice":false,"zero":false},"axis":{"values":[-400,-200,0,200,400],"title":"imbalance price [€/MWh]","grid":false,"domain":false,"tickColor":"#000000","tickSize":9,"tickWidth":1.2,"labelFont":"Liberation Serif","labelFontSize":18,"labelColor":"#000000","labelPadding":10,"titleFont":"Open Sans","titleFontSize":25,"titleFontWeight":"normal","titleColor":"#000000","titlePadding":23}}}},
{"data":{"name":"orange"},"mark":{"type":"point","filled":true,"fill":"#ff7f2a","stroke":"#000000","strokeWidth":1.2,"size":235,"opacity":1},
"encoding":{"x":{"field":"v","type":"quantitative"},"y":{"field":"p","type":"quantitative"}}},
{"data":{"values":[{"z":0}]},"mark":{"type":"rule","color":"#808080","strokeWidth":2.4},"encoding":{"x":{"field":"z","type":"quantitative"}}},
{"data":{"values":[{"z":0}]},"mark":{"type":"rule","color":"#808080","strokeWidth":2.4},"encoding":{"y":{"field":"z","type":"quantitative"}}},
{"data":{"name":"guide"},"mark":{"type":"rule","color":"#808080","strokeWidth":1.1,"strokeDash":[3,1.5]},"encoding":{"x":{"field":"a","type":"quantitative"},"x2":{"field":"b"},"y":{"datum":-347,"type":"quantitative"}}},
{"data":{"name":"heads"},"mark":{"type":"point","filled":true,"color":"#808080","opacity":1,"size":110},"encoding":{"x":{"field":"v","type":"quantitative"},"y":{"datum":-347,"type":"quantitative"},"shape":{"field":"s","type":"nominal","scale":null}}},
{"data":{"name":"labels"},"mark":{"type":"text","font":"Open Sans","fontSize":23.4,"color":"#808080","align":"center","baseline":"middle"},"encoding":{"x":{"field":"v","type":"quantitative"},"y":{"datum":-347,"type":"quantitative"},"text":{"field":"t"}}}
]}
